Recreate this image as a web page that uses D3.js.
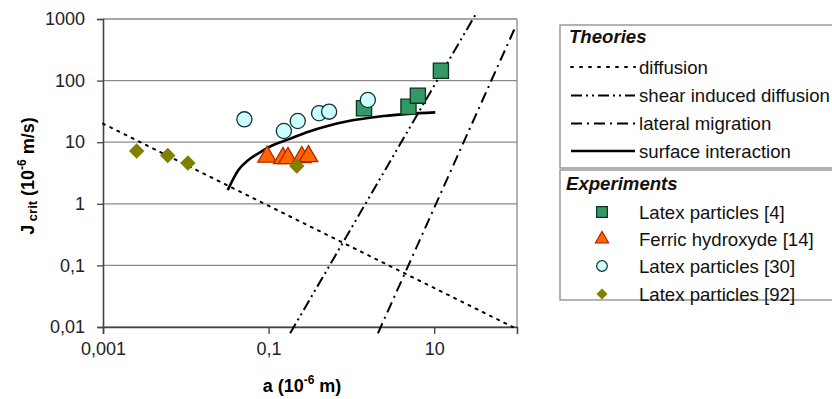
<!DOCTYPE html>
<html lang="en">
<head>
<meta charset="UTF-8">
<title>Critical flux vs particle size</title>
<script src="https://d3js.org/d3.v7.min.js"></script>
<style>
  body { margin: 0; background: #fff; }
  svg { font-family: "Liberation Sans", Arial, sans-serif; }
  .axis text { font-size: 18px; fill: #222; }
  .legend text { font-size: 18.6px; fill: #111; }
</style>
</head>
<body>
<svg width="832" height="399"></svg>
<script>
// axis ticks
const xTicks = [0.001, 0.1, 10];
const xTickLabels = ["0,001", "0,1", "10"];
const yTicks = [0.01, 0.1, 1, 10, 100, 1000];
const yTickLabels = ["0,01", "0,1", "1", "10", "100", "1000"];

// theory curves, [a, Jcrit]
const diffusion = [[0.001, 20], [89, 0.01]];
const shearDiffusion = [[0.182, 0.0079], [31.3, 1160]];
const lateralMigration = [[2.09, 0.0079], [98, 800]];
const surfaceInteraction = [
  [0.0321, 1.67], [0.0432, 3.54], [0.057, 5.14], [0.0754, 6.6], [0.114, 9.0],
  [0.173, 11.1], [0.303, 14.8], [0.528, 18.5], [0.84, 21.5], [2.44, 26.6], [10.3, 30.5]
];

// experiments
const latex4 = [[1.42, 35.5], [4.89, 37.7], [6.35, 56.9], [12.05, 144.8]];
const ferric14 = [[0.096, 5.8], [0.149, 5.5], [0.171, 5.5], [0.252, 5.7], [0.303, 5.9]];
const latex30 = [[0.051, 23.5], [0.153, 15.2], [0.225, 22.1], [0.407, 29.5], [0.538, 31.3], [1.58, 48.4]];
const latex92 = [[0.00255, 7.2], [0.00605, 6.1], [0.0106, 4.6], [0.219, 4.1]];

const svg = d3.select("svg");

const x = d3.scaleLog().domain([0.001, 100]).range([103, 517]);
const y = d3.scaleLog().domain([0.01, 1000]).range([327, 19]);

// gridlines
svg.append("g")
  .selectAll("line")
  .data(yTicks)
  .join("line")
    .attr("x1", x(0.001)).attr("x2", x(100))
    .attr("y1", d => y(d)).attr("y2", d => y(d))
    .attr("stroke", "#8a8a8a").attr("stroke-width", 1.3);

// right border of plot area
svg.append("line")
  .attr("x1", x(100)).attr("x2", x(100))
  .attr("y1", y(1000)).attr("y2", y(0.01))
  .attr("stroke", "#8a8a8a").attr("stroke-width", 1.3);

svg.append("g")
  .attr("class", "axis")
  .attr("transform", `translate(${x(0.001)},0)`)
  .call(d3.axisLeft(y).tickValues(yTicks).tickSize(6).tickPadding(12)
    .tickFormat((d, i) => yTickLabels[i]));

svg.append("g")
  .attr("class", "axis")
  .attr("transform", `translate(0,${y(0.01)})`)
  .call(d3.axisBottom(x).tickValues(xTicks).tickSize(7).tickPadding(8)
    .tickFormat((d, i) => xTickLabels[i]));

svg.selectAll(".axis .domain").attr("stroke", "#444").attr("stroke-width", 1.6);
svg.selectAll(".axis .tick line").attr("stroke", "#444").attr("stroke-width", 1.3);
svg.selectAll(".axis text").attr("font-family", null);

// axis titles
svg.append("text")
  .attr("x", 302).attr("y", 392)
  .attr("text-anchor", "middle")
  .attr("font-size", 18).attr("font-weight", "bold")
  .call(t => {
    t.append("tspan").text("a (10");
    t.append("tspan").attr("font-size", 12).attr("dy", -8).text("-6");
    t.append("tspan").attr("dy", 8).text(" m)");
  });

svg.append("text")
  .attr("transform", "translate(34,176) rotate(-90)")
  .attr("text-anchor", "middle")
  .attr("font-size", 18).attr("font-weight", "bold")
  .call(t => {
    t.append("tspan").text("J");
    t.append("tspan").attr("font-size", 13).attr("dy", 3).text(" crit");
    t.append("tspan").attr("dy", -3).text(" (10");
    t.append("tspan").attr("font-size", 12).attr("dy", -8).text("-6");
    t.append("tspan").attr("dy", 8).text(" m/s)");
  });

// theory lines
const line = d3.line().x(d => x(d[0])).y(d => y(d[1]));
const theories = [
  { name: "diffusion", data: diffusion, dash: "2,6", width: 2, curve: d3.curveLinear },
  { name: "shear induced diffusion", data: shearDiffusion, dash: "11,4,2,4,2,4", width: 2, curve: d3.curveLinear },
  { name: "lateral migration", data: lateralMigration, dash: "11,5,2,5", width: 2, curve: d3.curveLinear },
  { name: "surface interaction", data: surfaceInteraction, dash: null, width: 2.6, curve: d3.curveMonotoneX }
];

svg.append("g")
  .attr("fill", "none")
  .selectAll("path")
  .data(theories)
  .join("path")
    .attr("d", d => line.curve(d.curve)(d.data))
    .attr("stroke", "#000")
    .attr("stroke-width", d => d.width)
    .attr("stroke-dasharray", d => d.dash)
    .attr("stroke-linecap", d => d.dash === "2,6" ? "round" : "butt");

// experiment markers (diamond = square turned 45deg)
const experiments = [
  { name: "Latex particles [4]", data: latex4, type: d3.symbolSquare, size: 230, rot: 0, fill: "#339966", stroke: "#0d3320" },
  { name: "Ferric hydroxyde [14]", data: ferric14, type: d3.symbolTriangle, size: 150, rot: 0, fill: "#ff6600", stroke: "#b32400" },
  { name: "Latex particles [30]", data: latex30, type: d3.symbolCircle, size: 180, rot: 0, fill: "#ccffff", stroke: "#133" },
  { name: "Latex particles [92]", data: latex92, type: d3.symbolSquare, size: 120, rot: 45, fill: "#808000", stroke: "none" }
];

experiments.forEach(s => {
  svg.append("g")
    .selectAll("path")
    .data(s.data)
    .join("path")
      .attr("transform", d => `translate(${x(d[0])},${y(d[1])}) rotate(${s.rot})`)
      .attr("d", d3.symbol().type(s.type).size(s.size))
      .attr("fill", s.fill)
      .attr("stroke", s.stroke)
      .attr("stroke-width", 1.3);
});

// legend
const legend = svg.append("g").attr("class", "legend");

legend.append("rect")
  .attr("x", 560).attr("y", 25).attr("width", 300).attr("height", 143)
  .attr("fill", "#fff").attr("stroke", "#8a8a8a").attr("stroke-width", 1.3);
legend.append("rect")
  .attr("x", 560).attr("y", 170).attr("width", 300).attr("height", 130)
  .attr("fill", "#fff").attr("stroke", "#8a8a8a").attr("stroke-width", 1.3);

legend.append("text").attr("x", 569).attr("y", 43)
  .attr("font-weight", "bold").attr("font-style", "italic").text("Theories");
legend.append("text").attr("x", 566).attr("y", 190)
  .attr("font-weight", "bold").attr("font-style", "italic").text("Experiments");

const theoryRows = [67, 95.5, 123.5, 151];
theories.forEach((t, i) => {
  const ly = theoryRows[i];
  legend.append("line")
    .attr("x1", 571).attr("x2", 635).attr("y1", ly).attr("y2", ly)
    .attr("stroke", "#000").attr("stroke-width", t.width)
    .attr("stroke-dasharray", t.dash === "2,6" ? "2,7" : t.dash)
    .attr("stroke-linecap", t.dash === "2,6" ? "round" : "butt");
  legend.append("text").attr("x", 639).attr("y", ly).attr("dy", "0.35em").text(t.name);
});

const expRows = [212, 239, 266, 294];
experiments.forEach((s, i) => {
  const ly = expRows[i];
  legend.append("path")
    .attr("transform", `translate(602,${ly}) rotate(${s.rot})`)
    .attr("d", d3.symbol().type(s.type).size(s.size * 0.5))
    .attr("fill", s.fill).attr("stroke", s.stroke).attr("stroke-width", 1.2);
  legend.append("text").attr("x", 639).attr("y", ly).attr("dy", "0.35em").text(s.name);
});
</script>
</body>
</html>
